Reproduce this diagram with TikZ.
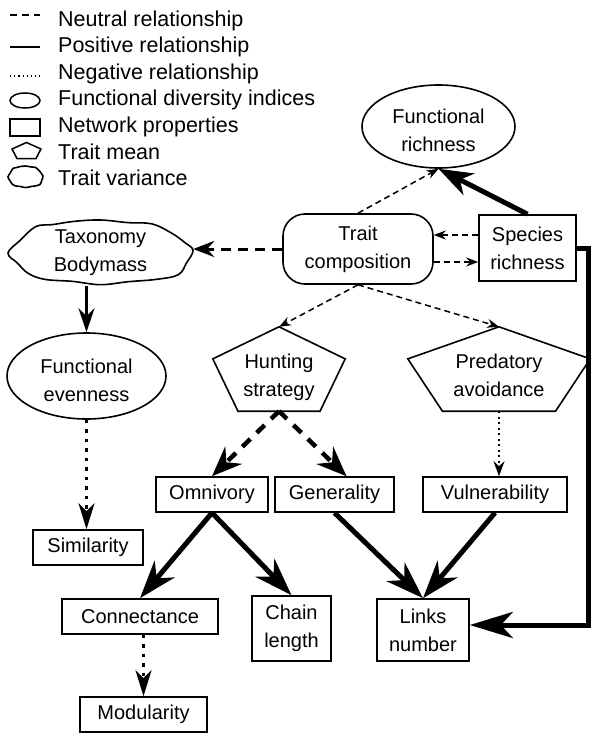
\documentclass[tikz,border=0pt]{standalone}
\usepackage{fontspec}
\setmainfont{Liberation Sans}
\usetikzlibrary{arrows.meta,calc,shapes.geometric}

\newcommand{\boxfont}{\fontsize{20}{28}\selectfont}
\newcommand{\legfont}{\fontsize{21.5}{26}\selectfont}

% outline of a pentagon round a (rectangular) node
\newcommand{\pentoutline}[1]{\draw[line width=1.6pt] (#1.north) -- ($(#1.north east)!0.38!(#1.south east)$) -- ($(#1.south east)!0.19!(#1.south west)$) -- ($(#1.south west)!0.19!(#1.south east)$) -- ($(#1.north west)!0.38!(#1.south west)$) -- cycle;}
% wavy outline: centre, half width, half height
\newcommand{\wavyoutline}[3]{\draw[line width=1.6pt, shift={(#1)}, xscale=#2, yscale=#3] plot[smooth cycle, tension=0.6] coordinates {(-1,0) (-0.87,-0.38) (-0.7,-0.8) (-0.52,-0.86) (-0.28,-0.96) (0,-1) (0.3,-0.92) (0.56,-0.88) (0.77,-0.6) (0.91,-0.32) (1,-0.08) (0.93,0.3) (0.84,0.66) (0.6,0.8) (0.3,0.87) (0,0.96) (-0.3,0.86) (-0.6,0.8) (-0.78,0.62) (-0.9,0.3)};}

\tikzset{
  netbox/.style={draw, line width=1.6pt, rectangle, align=center, inner sep=0pt, font=\boxfont},
  fdbox/.style={draw, line width=1.6pt, ellipse, align=center, inner sep=0pt, text height=51pt, font=\boxfont},
  traitbox/.style={draw, line width=1.6pt, rectangle, rounded corners=22pt, align=center, inner sep=0pt, font=\boxfont},
  pentbox/.style={rectangle, align=center, inner sep=0pt, font=\boxfont},
  legtext/.style={anchor=base west, inner sep=0pt, font=\legfont},
  neu/.style={line width=1.5pt, dash pattern=on 6pt off 4pt, -{Stealth[length=12pt,width=9pt,inset=4pt]}},
  neumid/.style={line width=3pt, dash pattern=on 10pt off 7pt, -{Stealth[length=21pt,width=16pt,inset=7pt]}},
  neubig/.style={line width=4.5pt, dash pattern=on 11pt off 9pt, -{Stealth[length=30pt,width=24pt,inset=10pt]}},
  posmid/.style={line width=2.5pt, -{Stealth[length=24pt,width=16pt,inset=8pt]}},
  posbig/.style={line width=5pt, -{Stealth[length=38pt,width=26pt,inset=12pt]}},
  neg/.style={line width=2pt, dash pattern=on 2pt off 3.5pt, -{Stealth[length=15pt,width=11pt,inset=5pt]}},
  negmid/.style={line width=3.5pt, dash pattern=on 3.5pt off 6pt, -{Stealth[length=26pt,width=16pt,inset=8pt]}}
}

\begin{document}
\begin{tikzpicture}[x=1pt,y=-1pt]
  \useasboundingbox (0,0) rectangle (592,733);

% legend
  \draw[line width=1.5pt, dash pattern=on 7pt off 5pt] (10,15) -- (40,15);
  \draw[line width=2.5pt] (10,47) -- (40,47);
  \draw[line width=1.2pt, dash pattern=on 1.2pt off 3pt] (10,76) -- (40,76);
  \draw[line width=1.5pt] (25,100.5) ellipse [x radius=15pt, y radius=7.5pt];
  \draw[line width=1.5pt] (10,119) rectangle (40,136);
  \draw[line width=1.5pt] (26.5,142.5) -- (41,149) -- (36,158.5) -- (17,158.5) -- (12,149) -- cycle;
  \wavyoutline{25.5,177}{17.5}{11}
  \node[legtext] (lneu) at (58,26.5) {Neutral relationship};
  \node[legtext] (lpos) at (58,53) {Positive relationship};
  \node[legtext] (lneg) at (58,79.5) {Negative relationship};
  \node[legtext] (lfd) at (58,106) {Functional diversity indices};
  \node[legtext] (lnet) at (58,132.5) {Network properties};
  \node[legtext] (lmean) at (58,159) {Trait mean};
  \node[legtext] (lvar) at (58,185.5) {Trait variance};

% nodes
  \node[fdbox, minimum width=153pt, minimum height=83pt] (frich) at (438.5,126.5) {Functional\\richness};
  \node[traitbox, minimum width=150pt, minimum height=70pt] (trait) at (358,249) {Trait\\composition};
  \node[netbox, minimum width=97pt, minimum height=66pt] (spec) at (527.5,248) {Species\\richness};
  \node[pentbox, minimum width=185pt, minimum height=66pt] (taxo) at (100.5,253) {Taxonomy\\Bodymass};
  \wavyoutline{taxo.center}{92.5}{33}
  \node[fdbox, minimum width=159pt, minimum height=86pt] (feven) at (86.5,376) {Functional\\evenness};
  \node[pentbox, text height=60pt, minimum width=132pt, minimum height=84pt] (hunt) at (279,369) {Hunting\\strategy};
  \node[pentbox, text height=55pt, minimum width=182pt, minimum height=84pt] (pred) at (499,369) {Predatory\\avoidance};
  \pentoutline{hunt} \pentoutline{pred}
  \node[netbox, minimum width=112pt, minimum height=35pt] (omni) at (212,494.5) {Omnivory};
  \node[netbox, minimum width=119pt, minimum height=35pt] (gen) at (334.5,494.5) {Generality};
  \node[netbox, minimum width=144pt, minimum height=35pt] (vul) at (495,494.5) {Vulnerability};
  \node[netbox, minimum width=110pt, minimum height=35pt] (simil) at (88,547.5) {Similarity};
  \node[netbox, minimum width=156pt, minimum height=35pt] (conn) at (140,616.5) {Connectance};
  \node[netbox, minimum width=79pt, minimum height=65pt] (chain) at (291.5,628.5) {Chain\\length};
  \node[netbox, minimum width=92pt, minimum height=62pt] (links) at (423,630) {Links\\number};
  \node[netbox, minimum width=127pt, minimum height=35pt] (modul) at (143.5,714.5) {Modularity};

% relationships
  \draw[neu] (trait.north) -- (frich.south);
  \draw[posbig, -{Stealth[length=34pt,width=24pt,inset=10pt]}] (spec.north) -- (frich.south);
  \draw[neu, line width=2pt] ([yshift=13pt]spec.west) -- ([yshift=13pt]spec.west -| trait.east);
  \draw[neu, line width=2pt] ([yshift=-13pt]trait.east) -- ([yshift=-13pt]trait.east -| spec.west);
  \draw[neumid] (trait.west) -- (trait.west -| taxo.east);
  \draw[posmid] (feven.north |- taxo.south) -- (feven.north);
  \draw[negmid] (feven.south) -- (feven.south |- simil.north);
  \draw[neu] (trait.south) -- (hunt.north);  \draw[neu] (trait.south) -- (pred.north);
  \draw[neubig] (hunt.south) -- (omni.north);  \draw[neubig] (hunt.south) -- ([xshift=12pt]gen.north);
  \draw[neg] (pred.south) -- (pred.south |- vul.north);
  \draw[posbig] (omni.south) -- (conn.north);  \draw[posbig] (omni.south) -- (chain.north);
  \draw[posbig] (gen.south) -- (links.north);  \draw[posbig] (vul.south) -- (links.north);
  \draw[negmid] (modul.north |- conn.south) -- (modul.north);
  \coordinate (rturn) at (588,625);
  \draw[posbig, -{Stealth[length=43pt,width=26pt,inset=12pt]}] (spec.east) -| (rturn) -- (rturn -| links.east);

\end{tikzpicture}
\end{document}
